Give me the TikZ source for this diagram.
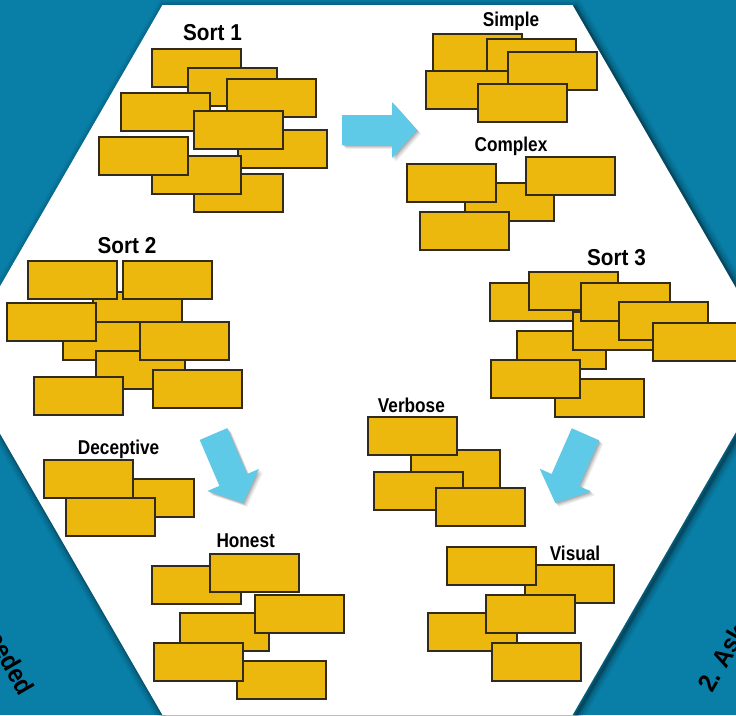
\documentclass[tikz,border=0pt]{standalone}
\usepackage{fontspec}
\setmainfont{Liberation Sans}
\newfontfamily\titlefont[FakeStretch=0.9]{Liberation Sans}
\newfontfamily\groupfont[FakeStretch=0.86]{Liberation Sans}

\definecolor{bgblue}{RGB}{9,126,167}
\definecolor{cardfill}{RGB}{236,184,13}
\definecolor{cardline}{RGB}{50,43,25}
\definecolor{arrowcyan}{RGB}{94,202,232}

\tikzset{
  card/.style={draw=cardline, fill=cardfill, line width=1.2pt,
    minimum width=89pt, minimum height=38pt, inner sep=0pt, outer sep=0pt,
    anchor=north west},
  sorttitle/.style={font=\titlefont\bfseries\fontsize{23}{23}\selectfont,
    anchor=base, inner sep=0pt},
  grouptitle/.style={font=\groupfont\bfseries\fontsize{20}{20}\selectfont,
    anchor=base, inner sep=0pt},
  edgetext/.style={font=\titlefont\bfseries\fontsize{26}{26}\selectfont,
    inner sep=0pt},
}

% block arrow: tail centre (#1,#2), direction #3, with a soft shadow
\newcommand\cueArrow[3]{%
  \foreach \d/\o in {4/0.06,3/0.08,2/0.1,1/0.12}{%
    \fill[black, opacity=\o, shift={(#1+\d,#2+\d)}, rotate=#3]
      (0,-15) -- (50,-15) -- (50,-28) -- (75,0) -- (50,28) -- (50,15) -- (0,15) -- cycle;}
  \fill[arrowcyan, shift={(#1,#2)}, rotate=#3]
    (0,-15) -- (50,-15) -- (50,-28) -- (75,0) -- (50,28) -- (50,15) -- (0,15) -- cycle;
}

\begin{document}
\begin{tikzpicture}[x=1pt, y=-1pt]
\useasboundingbox (0,0) rectangle (736,715);
\clip (0,0) rectangle (736,715);
\fill[bgblue] (0,0) rectangle (736,715);

% captions running along the outer edges
\node[edgetext, rotate=-60, anchor=base east] (leftedge) at (20,697) {needed};
\node[edgetext, rotate=60, anchor=base west] (rightedge) at (712,694) {2. Ask};

% hexagon shadow and face
\foreach \w/\o in {16/0.05,12/0.07,8/0.09,5/0.12,2.5/0.16}{%
  \draw[black, line width=\w pt, opacity=\o]
    (165,7.5) -- (575,7.5) -- (780,362.5) -- (575,717.5) -- (165,717.5) -- (-40,362.5) -- cycle;}
\fill[white] (162.5,5) -- (572.5,5) -- (777.5,360) -- (572.5,715) -- (162.5,715) -- (-42.5,360) -- cycle;

% ---- Sort 1 ----
\node[sorttitle] (sort1) at (212.5,40.5) {Sort 1};
\node[card] (s1a) at (152,49) {};
\node[card] (s1b) at (188,68) {};
\node[card] (s1c) at (227,79) {};
\node[card] (s1d) at (121,93) {};
\node[card] (s1f) at (238,130) {};
\node[card] (s1e) at (194,111) {};
\node[card] (s1i) at (194,174) {};
\node[card] (s1h) at (152,156) {};
\node[card] (s1g) at (99,137) {};

% ---- Simple ----
\node[grouptitle] (simple) at (511,26) {Simple};
\node[card] (sia) at (433,34) {};
\node[card] (sib) at (487,39) {};
\node[card] (sid) at (426,71) {};
\node[card] (sic) at (508,52) {};
\node[card] (sie) at (478,84) {};

% ---- Complex ----
\node[grouptitle] (complex) at (511,151.5) {Complex};
\node[card] (cob) at (465,183) {};
\node[card] (coa) at (407,164) {};
\node[card] (coc) at (526,157) {};
\node[card] (cod) at (420,212) {};

% ---- Sort 2 ----
\node[sorttitle] (sort2) at (127,253) {Sort 2};
\node[card] (s2c) at (93,292) {};
\node[card] (s2a) at (28,261) {};
\node[card] (s2b) at (123,261) {};
\node[card] (s2e) at (63,322) {};
\node[card] (s2d) at (7,303) {};
\node[card] (s2g) at (96,351) {};
\node[card] (s2f) at (140,322) {};
\node[card] (s2h) at (153,370) {};
\node[card] (s2i) at (34,377) {};

% ---- Sort 3 ----
\node[sorttitle] (sort3) at (616.5,265) {Sort 3};
\node[card] (s3a) at (490,283) {};
\node[card] (s3b) at (529,272) {};
\node[card] (s3g) at (517,331) {};
\node[card] (s3d) at (573,312) {};
\node[card] (s3c) at (581,283) {};
\node[card] (s3e) at (619,302) {};
\node[card] (s3f) at (653,323) {};
\node[card] (s3i) at (555,379) {};
\node[card] (s3h) at (491,360) {};

% ---- Deceptive ----
\node[grouptitle] (deceptive) at (118.6,454) {Deceptive};
\node[card] (deb) at (105,479) {};
\node[card] (dea) at (44,460) {};
\node[card] (dec) at (66,498) {};

% ---- Honest ----
\node[grouptitle] (honest) at (245.7,547.5) {Honest};
\node[card] (hoa) at (152,566) {};
\node[card] (hob) at (210,554) {};
\node[card] (hod) at (180,613) {};
\node[card] (hoc) at (255,595) {};
\node[card] (hof) at (237,661) {};
\node[card] (hoe) at (154,643) {};

% ---- Verbose ----
\node[grouptitle] (verbose) at (411.4,412) {Verbose};
\node[card] (veb) at (411,450) {};
\node[card] (vea) at (368,417) {};
\node[card] (vec) at (374,472) {};
\node[card] (ved) at (436,488) {};

% ---- Visual ----
\node[grouptitle] (visual) at (575,560) {Visual};
\node[card] (vib) at (525,565) {};
\node[card] (via) at (447,547) {};
\node[card] (vid) at (428,613) {};
\node[card] (vic) at (486,595) {};
\node[card] (vie) at (492,643) {};

% ---- sorting arrows ----
\cueArrow{342}{130}{0}
\cueArrow{213.5}{434}{-66.8}
\cueArrow{585.5}{434.3}{-113.8}
\end{tikzpicture}
\end{document}
